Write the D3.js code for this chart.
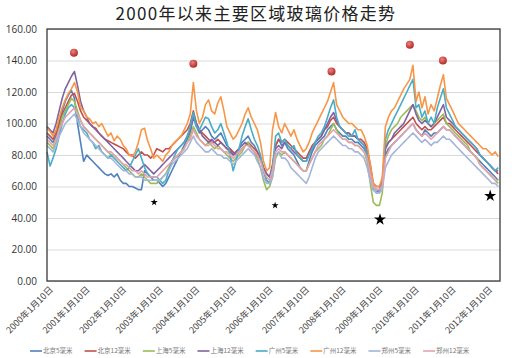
<!DOCTYPE html>
<html>
<head>
<meta charset="utf-8">
<script src="https://cdn.jsdelivr.net/npm/d3@7"></script>
<style>
  body { margin: 0; background: #fff; }
  svg { display: block; }
</style>
</head>
<body>
<svg id="chart" width="512" height="358"></svg>
<script>
// monthly readings, Jan 2000 .. May 2012 (one row per year)
const bj5 = [
  92, 90, 88, 92, 100, 108, 114, 118, 121, 116, 100, 88,
  76, 80, 78, 76, 74, 72, 70, 68, 67, 68, 66, 68,
  64, 62, 62, 60, 60, 59, 58, 58, 70, 68, 66, 64,
  64, 62, 60, 62, 66, 70, 74, 78, 82, 86, 90, 94,
  104, 98, 94, 96, 98, 96, 92, 90, 92, 94, 90, 86,
  84, 80, 82, 84, 88, 90, 92, 88, 86, 82, 78, 70,
  64, 62, 70, 86, 90, 86, 88, 84, 82, 80, 76, 72,
  70, 70, 76, 82, 86, 88, 90, 92, 96, 98, 100, 96,
  94, 92, 92, 90, 90, 88, 88, 86, 84, 80, 70, 58,
  56, 58, 62, 80, 84, 86, 88, 90, 92, 94, 96, 98,
  100, 96, 94, 92, 96, 94, 92, 94, 94, 96, 98, 96,
  96, 94, 92, 90, 88, 86, 84, 82, 80, 78, 76, 74,
  72, 70, 68, 66, 64
];
const bj12 = [
  94, 92, 90, 94, 100, 106, 110, 114, 118, 119, 114, 108,
  104, 102, 100, 98, 97, 94, 92, 90, 89, 88, 87, 86,
  85, 84, 82, 80, 80, 78, 80, 82, 80, 80, 78, 80,
  84, 83, 82, 84, 84, 86, 88, 90, 92, 94, 96, 100,
  108, 100, 96, 94, 92, 90, 88, 88, 90, 88, 86, 84,
  84, 82, 80, 82, 84, 86, 88, 86, 84, 82, 78, 72,
  68, 66, 74, 86, 90, 88, 90, 88, 86, 84, 82, 80,
  78, 78, 82, 86, 88, 90, 92, 96, 98, 102, 104, 100,
  98, 96, 94, 94, 92, 92, 90, 90, 88, 84, 74, 62,
  60, 60, 64, 84, 88, 90, 92, 94, 96, 98, 100, 102,
  104, 100, 98, 96, 98, 96, 96, 98, 100, 102, 104, 100,
  100, 98, 96, 94, 92, 90, 88, 86, 84, 82, 80, 78,
  76, 74, 72, 70, 68
];
const sh5 = [
  88, 86, 84, 88, 96, 104, 108, 112, 116, 114, 108, 102,
  98, 96, 94, 92, 90, 88, 86, 84, 82, 80, 80, 78,
  76, 74, 72, 70, 68, 66, 66, 68, 66, 64, 62, 62,
  62, 64, 66, 68, 72, 76, 78, 80, 82, 84, 88, 92,
  98, 94, 90, 88, 86, 88, 86, 84, 86, 84, 82, 80,
  78, 76, 78, 80, 82, 86, 88, 84, 82, 78, 72, 64,
  58, 60, 66, 78, 82, 80, 82, 80, 78, 76, 74, 72,
  70, 70, 74, 78, 82, 84, 86, 90, 92, 96, 100, 96,
  92, 90, 90, 88, 88, 86, 86, 84, 82, 76, 62, 50,
  48, 48, 56, 86, 92, 96, 98, 100, 104, 106, 108, 110,
  112, 108, 104, 102, 104, 100, 98, 100, 102, 104, 106, 100,
  98, 96, 94, 92, 90, 88, 86, 82, 80, 78, 74, 72,
  70, 68, 66, 64, 62
];
const sh12 = [
  98, 96, 94, 100, 108, 116, 122, 126, 130, 133, 124, 114,
  108, 104, 100, 98, 96, 94, 92, 90, 88, 86, 84, 82,
  80, 78, 76, 74, 72, 70, 70, 72, 74, 72, 70, 68,
  70, 72, 74, 76, 78, 80, 82, 84, 86, 88, 92, 96,
  106, 100, 96, 92, 90, 88, 90, 88, 86, 88, 86, 84,
  82, 80, 82, 84, 86, 88, 86, 84, 82, 80, 78, 72,
  68, 66, 72, 84, 86, 84, 88, 86, 84, 82, 80, 78,
  76, 76, 80, 84, 88, 90, 92, 96, 100, 104, 107, 102,
  98, 96, 94, 94, 92, 92, 90, 88, 86, 82, 72, 60,
  58, 58, 62, 84, 88, 90, 94, 96, 98, 100, 104, 108,
  112, 106, 102, 100, 102, 100, 98, 100, 104, 108, 112, 104,
  102, 100, 98, 96, 94, 92, 90, 88, 86, 84, 80, 78,
  76, 74, 72, 70, 70
];
const gz5 = [
  82, 73, 78, 84, 92, 100, 106, 110, 112, 110, 104, 98,
  96, 94, 90, 88, 84, 86, 82, 80, 78, 80, 78, 76,
  74, 72, 70, 72, 76, 80, 84, 78, 72, 68, 66, 66,
  66, 64, 62, 64, 70, 76, 80, 84, 86, 88, 92, 98,
  107, 98, 96, 100, 104, 103, 98, 94, 96, 100, 94, 88,
  80, 70, 76, 84, 92, 98, 103, 96, 90, 86, 80, 70,
  64, 62, 72, 92, 94, 88, 90, 86, 84, 86, 80, 78,
  76, 76, 80, 84, 88, 92, 94, 98, 104, 110, 115, 104,
  98, 96, 94, 92, 92, 96, 90, 88, 86, 80, 68, 58,
  56, 56, 62, 90, 96, 100, 104, 108, 112, 116, 120, 124,
  128, 110, 112, 104, 108, 100, 104, 100, 110, 116, 122, 110,
  106, 102, 98, 96, 94, 92, 90, 88, 86, 84, 80, 78,
  76, 74, 72, 70, 72
];
const gz12 = [
  97, 95, 92, 96, 104, 110, 115, 119, 122, 126, 120, 110,
  108, 104, 103, 100, 101, 98, 100, 96, 92, 94, 89, 92,
  90, 86, 84, 80, 79, 82, 88, 96, 97, 89, 84, 78,
  80, 78, 76, 80, 82, 86, 88, 90, 92, 96, 100, 106,
  126, 108, 100, 104, 112, 115, 108, 106, 113, 117, 108, 98,
  94, 90, 92, 96, 100, 106, 110, 104, 100, 96, 88, 76,
  70, 72, 96, 107, 98, 94, 100, 96, 92, 96, 90, 86,
  82, 84, 88, 94, 98, 102, 106, 110, 114, 120, 126, 112,
  108, 104, 102, 100, 100, 98, 96, 96, 92, 86, 74, 62,
  60, 60, 66, 98, 104, 108, 110, 114, 118, 122, 125, 128,
  137, 114, 120, 110, 117, 106, 112, 108, 116, 124, 131, 116,
  112, 108, 104, 100, 98, 96, 94, 92, 90, 88, 86, 84,
  84, 82, 80, 82, 79
];
const zz5 = [
  86, 84, 82, 86, 92, 96, 100, 102, 104, 106, 102, 98,
  94, 92, 90, 88, 86, 84, 82, 80, 78, 78, 76, 74,
  72, 70, 70, 68, 68, 66, 66, 66, 64, 64, 64, 64,
  64, 64, 66, 68, 70, 74, 76, 78, 80, 82, 84, 88,
  92, 88, 86, 84, 82, 82, 84, 82, 80, 80, 78, 78,
  76, 74, 76, 78, 80, 82, 84, 82, 80, 76, 72, 66,
  62, 62, 66, 80, 82, 78, 78, 76, 72, 70, 68, 66,
  64, 62, 66, 72, 78, 82, 84, 86, 88, 90, 92, 90,
  88, 86, 86, 84, 84, 82, 82, 80, 78, 72, 64, 58,
  56, 56, 58, 72, 76, 80, 82, 84, 86, 88, 90, 92,
  94, 92, 90, 88, 90, 88, 86, 88, 88, 90, 92, 90,
  90, 88, 86, 84, 82, 80, 78, 76, 74, 72, 70, 68,
  66, 64, 62, 62, 60
];
const zz12 = [
  90, 88, 86, 90, 96, 100, 104, 106, 108, 110, 106, 102,
  98, 96, 94, 92, 90, 88, 86, 84, 82, 82, 80, 78,
  76, 74, 74, 72, 70, 70, 68, 70, 68, 66, 66, 66,
  66, 68, 70, 72, 74, 76, 78, 80, 82, 84, 88, 90,
  96, 92, 90, 88, 86, 86, 88, 86, 84, 84, 82, 82,
  80, 78, 80, 82, 84, 86, 86, 84, 82, 80, 76, 70,
  66, 64, 70, 82, 84, 82, 82, 80, 78, 76, 74, 72,
  70, 70, 74, 78, 82, 86, 88, 90, 92, 94, 96, 94,
  92, 90, 90, 88, 88, 86, 86, 84, 82, 78, 68, 60,
  58, 58, 60, 78, 82, 86, 88, 90, 92, 94, 96, 98,
  100, 96, 94, 92, 94, 92, 90, 92, 94, 96, 98, 96,
  96, 94, 92, 90, 88, 86, 84, 82, 80, 78, 74, 72,
  70, 68, 66, 64, 64
];

const seriesNames = ["北京5毫米", "北京12毫米", "上海5毫米", "上海12毫米",
                     "广州5毫米", "广州12毫米", "郑州5毫米", "郑州12毫米"];
const seriesValues = [bj5, bj12, sh5, sh12, gz5, gz12, zz5, zz12];
const colors = ["#4F81BD", "#C0504D", "#9BBB59", "#8064A2",
                "#4BACC6", "#F79646", "#A3B5DB", "#E7A1AC"];

const yTicks = [0, 20, 40, 60, 80, 100, 120, 140, 160];
const yearTicks = d3.range(2000, 2013);

// annotations drawn on the chart: peaks (red dots) and troughs (stars)
const peakDates = [new Date(2000, 9, 5), new Date(2004, 0, 10), new Date(2007, 9, 20),
                   new Date(2009, 11, 10), new Date(2010, 10, 5)];
const peakValues = [145, 138, 133, 150, 140];
const lowDates = [new Date(2002, 11, 15), new Date(2006, 3, 5),
                  new Date(2009, 1, 15), new Date(2012, 1, 20)];
const lowValues = [50, 48, 39, 54];

const svg = d3.select("#chart");
const plotLeft = 47, plotRight = 500, plotTop = 29, plotBottom = 281;

const x = d3.scaleTime()
    .domain([new Date(2000, 0, 10), new Date(2012, 4, 28)])
    .range([plotLeft, plotRight]);
const y = d3.scaleLinear()
    .domain([0, 160])
    .range([plotBottom, plotTop]);

// title
svg.append("text")
    .attr("x", 256)
    .attr("y", 20)
    .attr("text-anchor", "middle")
    .attr("font-family", "Noto Sans CJK SC")
    .attr("font-size", 17)
    .attr("letter-spacing", 1.3)
    .attr("fill", "#222")
    .text("2000年以来主要区域玻璃价格走势");

// gridlines
svg.append("g")
    .attr("transform", `translate(${plotLeft},0)`)
    .call(d3.axisLeft(y).tickValues(yTicks).tickSize(-(plotRight - plotLeft)).tickFormat(""))
    .call(g => g.select(".domain").remove())
    .call(g => g.selectAll("line").attr("stroke", "#d9d9d9"));

// y axis labels
svg.append("g")
    .attr("transform", `translate(${plotLeft},0)`)
    .call(d3.axisLeft(y).tickValues(yTicks).tickSize(0).tickPadding(10).tickFormat(d => d.toFixed(2)))
    .call(g => g.select(".domain").remove())
    .call(g => g.selectAll("text")
        .attr("font-family", "Open Sans")
        .attr("font-size", 10)
        .attr("fill", "#333"));

// x axis
svg.append("g")
    .attr("transform", `translate(0,${plotBottom})`)
    .call(d3.axisBottom(x)
        .tickValues(yearTicks.map(yr => new Date(yr, 0, 10)))
        .tickSize(0)
        .tickFormat(d => `${d.getFullYear()}年1月10日`))
    .call(g => g.select(".domain").remove())
    .call(g => g.selectAll("text")
        .attr("font-family", "Noto Sans CJK SC")
        .attr("font-size", 9)
        .attr("fill", "#444")
        .attr("text-anchor", "end")
        .attr("x", 0)
        .attr("y", 0)
        .attr("dy", "0.35em")
        .attr("transform", "translate(4,7) rotate(-45)"));

// series lines
const line = d3.line()
    .x((d, i) => x(new Date(2000, i, 10)))
    .y(d => y(d));

svg.append("g")
    .selectAll("path")
    .data(seriesValues)
    .join("path")
    .attr("fill", "none")
    .attr("stroke", (d, i) => colors[i])
    .attr("stroke-width", 1.6)
    .attr("stroke-linejoin", "round")
    .attr("d", line);

// plot border
svg.append("rect")
    .attr("x", plotLeft)
    .attr("y", plotTop)
    .attr("width", plotRight - plotLeft)
    .attr("height", plotBottom - plotTop)
    .attr("fill", "none")
    .attr("stroke", "#3a3a3a")
    .attr("stroke-width", 1.3);

// red dot markers
const grad = svg.append("defs").append("radialGradient")
    .attr("id", "dot").attr("cx", "40%").attr("cy", "35%").attr("r", "65%");
grad.append("stop").attr("offset", "0%").attr("stop-color", "#f08080");
grad.append("stop").attr("offset", "100%").attr("stop-color", "#b02a25");

svg.append("g")
    .selectAll("circle")
    .data(peakValues)
    .join("circle")
    .attr("cx", (d, i) => x(peakDates[i]))
    .attr("cy", d => y(d))
    .attr("r", 4)
    .attr("fill", "url(#dot)");

// stars
svg.append("g")
    .selectAll("path")
    .data(lowValues)
    .join("path")
    .attr("transform", (d, i) => `translate(${x(lowDates[i])},${y(d)})`)
    .attr("d", (d, i) => d3.symbol(d3.symbolStar, i < 2 ? 16 : 45)())
    .attr("fill", "#000");

// legend
const legend = svg.append("g").attr("transform", "translate(30,351)");
let lx = 0;
seriesNames.forEach((name, i) => {
    const item = legend.append("g").attr("transform", `translate(${lx},0)`);
    item.append("line")
        .attr("x1", 0).attr("x2", 12)
        .attr("y1", 0).attr("y2", 0)
        .attr("stroke", colors[i])
        .attr("stroke-width", 1.6);
    const t = item.append("text")
        .attr("x", 13)
        .attr("y", 0)
        .attr("dy", "0.35em")
        .attr("font-family", "Noto Sans CJK SC")
        .attr("font-size", 6.5)
        .attr("fill", "#777")
        .text(name);
    lx += 13 + t.node().getComputedTextLength() + 12;
});
</script>
</body>
</html>
